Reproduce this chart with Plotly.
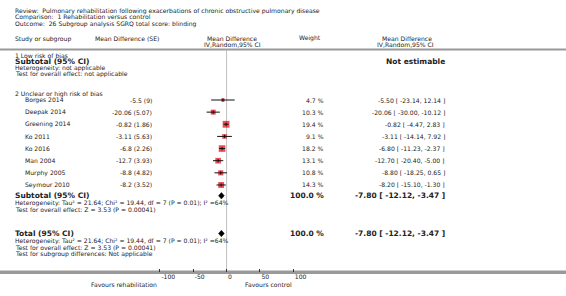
import plotly.graph_objects as go

# ---------------- data ----------------
review = "Review:  Pulmonary rehabilitation following exacerbations of chronic obstructive pulmonary disease"
comparison = "Comparison:  1 Rehabilitation versus control"
outcome = "Outcome:  26 Subgroup analysis SGRQ total score: blinding"

studies = ["Borges 2014", "Deepak 2014", "Greening 2014", "Ko 2011", "Ko 2016",
           "Man 2004", "Murphy 2005", "Seymour 2010"]
md_se_text = ["-5.5 (9)", "-20.06 (5.07)", "-0.82 (1.86)", "-3.11 (5.63)", "-6.8 (2.26)",
              "-12.7 (3.93)", "-8.8 (4.82)", "-8.2 (3.52)"]
md = [-5.50, -20.06, -0.82, -3.11, -6.80, -12.70, -8.80, -8.20]
ci_low = [-23.14, -30.00, -4.47, -14.14, -11.23, -20.40, -18.25, -15.10]
ci_high = [12.14, -10.12, 2.83, 7.92, -2.37, -5.00, 0.65, -1.30]
weights = [4.7, 10.3, 19.4, 9.1, 18.2, 13.1, 10.8, 14.3]
total_weight = 100.0

pooled_md = -7.80
pooled_low = -12.12
pooled_high = -3.47

tick_vals = [-100, -50, 0, 50, 100]
tick_text = ["-100", "-50", "0", "50", "100"]

het_text = "Heterogeneity: Tau² = 21.64; Chi² = 19.44, df = 7 (P = 0.01); I² =64%"
effect_text = "Test for overall effect: Z = 3.53 (P = 0.00041)"

# ---------------- layout helpers ----------------
W, H = 566, 296
AXIS_Y = 271.5
X0_PX = 226.6          # pixel of zero
PX_PER_UNIT = 0.667
x_range = [(0 - X0_PX) / PX_PER_UNIT, (W - X0_PX) / PX_PER_UNIT]

FONT = "DejaVu Sans"
TXT = "#222222"
FS = 6.1
FSB = 7.5

anns = []


def px(x):
    return x / W


def py(y):
    return 1 - y / H


def text(x, y, s, anchor="left", size=FS, bold=False, color=TXT):
    if bold:
        s = "<b>" + s + "</b>"
    anns.append(dict(x=px(x), y=py(y), xref="paper", yref="paper", text=s,
                     showarrow=False, xanchor=anchor, yanchor="middle",
                     font=dict(family=FONT, size=size, color=color)))


# titles
text(13, 10.8, review)
text(13, 17.4, comparison)
text(13, 24.0, outcome)

# header
text(13, 38.8, "Study or subgroup")
text(93, 38.8, "Mean Difference (SE)")
text(232, 38.3, "Mean Difference", anchor="center")
text(232, 44.0, "IV,Random,95% CI", anchor="center")
text(310, 38.3, "Weight", anchor="center")
text(407, 38.3, "Mean Difference", anchor="center")
text(405, 44.0, "IV,Random,95% CI", anchor="center")

# section 1
text(13, 55.8, "1 Low risk of bias")
text(13, 61.5, "Subtotal (95% CI)", size=FSB, bold=True)
text(447, 61.7, "Not estimable", anchor="right", size=FSB, bold=True)
text(13, 67.8, "Heterogeneity: not applicable")
text(13, 74.2, "Test for overall effect: not applicable")

# section 2
text(13, 94.3, "2 Unclear or high risk of bias")
row_y = [100 + 12.14 * i for i in range(len(studies))]
for i, s in enumerate(studies):
    y = row_y[i]
    text(23, y, s)
    text(153.5, y, md_se_text[i], anchor="right")
    text(326, y, f"{weights[i]:.1f} %", anchor="right")
    text(446.5, y, f"{md[i]:.2f} [ {ci_low[i]:.2f}, {ci_high[i]:.2f} ]", anchor="right")

SUB_Y = 195.7
text(13, SUB_Y, "Subtotal (95% CI)", size=FSB, bold=True)
text(326, SUB_Y, f"{total_weight:.1f} %", anchor="right", size=FSB, bold=True)
text(447, SUB_Y, f"{pooled_md:.2f} [ {pooled_low:.2f}, {pooled_high:.2f} ]", anchor="right", size=FSB, bold=True)
text(13, 203.3, het_text)
text(13, 209.8, effect_text)

TOT_Y = 233.5
text(13, TOT_Y, "Total (95% CI)", size=FSB, bold=True)
text(326, TOT_Y, f"{total_weight:.1f} %", anchor="right", size=FSB, bold=True)
text(447, TOT_Y, f"{pooled_md:.2f} [ {pooled_low:.2f}, {pooled_high:.2f} ]", anchor="right", size=FSB, bold=True)
text(13, 241.0, het_text)
text(13, 247.3, effect_text)
text(13, 253.8, "Test for subgroup differences: Not applicable")

# favours labels
text(158.5, 284.0, "Favours rehabilitation", anchor="right")
text(243, 284.0, "Favours control", anchor="left")

fig = go.Figure()

# squares
sizes = [1.55 * (w ** 0.5) for w in weights]
fig.add_trace(go.Scatter(x=md, y=row_y, mode="markers",
                         marker=dict(symbol="square", size=sizes, color="#e8000b",
                                     line=dict(width=0)),
                         hoverinfo="skip", showlegend=False, cliponaxis=False))
# CI lines
cx, cy = [], []
for i in range(len(md)):
    cx += [ci_low[i], ci_high[i], None]
    cy += [row_y[i], row_y[i], None]
fig.add_trace(go.Scatter(x=cx, y=cy, mode="lines", line=dict(color="#111111", width=1),
                         hoverinfo="skip", showlegend=False))
# centre ticks
tx, ty = [], []
for i in range(len(md)):
    tx += [md[i], md[i], None]
    ty += [row_y[i] - 1.6, row_y[i] + 1.6, None]
fig.add_trace(go.Scatter(x=tx, y=ty, mode="lines", line=dict(color="#111111", width=1),
                         hoverinfo="skip", showlegend=False))

shapes = []
# header rule
shapes.append(dict(type="line", xref="paper", yref="paper", x0=0, x1=1,
                   y0=py(49.5), y1=py(49.5), line=dict(color="#999999", width=2)))
# bottom axis rule (full width)
shapes.append(dict(type="line", xref="paper", yref="paper", x0=0, x1=1,
                   y0=py(AXIS_Y), y1=py(AXIS_Y), line=dict(color="#999999", width=2),
                   layer="below"))
# zero line
shapes.append(dict(type="line", xref="x", yref="y", x0=0, x1=0, y0=50.5, y1=AXIS_Y,
                   line=dict(color="#c0c0c0", width=1), layer="below"))
# diamonds
for yy in (SUB_Y, TOT_Y):
    shapes.append(dict(type="path", xref="x", yref="y",
                       path=f"M {pooled_low},{yy} L {pooled_md},{yy - 3.2} L {pooled_high},{yy} L {pooled_md},{yy + 3.2} Z",
                       fillcolor="#000000", line=dict(color="#000000", width=0.5)))

fig.update_layout(
    width=W, height=H,
    margin=dict(l=0, r=0, t=0, b=0),
    paper_bgcolor="white", plot_bgcolor="white",
    annotations=anns, shapes=shapes,
    xaxis=dict(range=x_range, domain=[0, 1], showgrid=False, zeroline=False,
               showline=True, linecolor="#999999", linewidth=2,
               tickmode="array", tickvals=tick_vals, ticktext=tick_text,
               ticks="inside", ticklen=3, tickwidth=1, tickcolor="#333333",
               ticklabelposition="outside right", ticklabelstandoff=-2,
               tickfont=dict(family=FONT, size=FS, color=TXT), fixedrange=True),
    yaxis=dict(range=[AXIS_Y, 0], domain=[1 - AXIS_Y / H, 1], visible=False, fixedrange=True),
    showlegend=False,
)

fig.write_html("out.html", config={"displayModeBar": False},
               post_script=("document.documentElement.style.margin='0px';"
                            "document.documentElement.style.overflow='hidden';"
                            "document.body.style.margin='0px';"
                            "document.body.style.padding='0px';"
                            "document.body.style.overflow='hidden';"))
